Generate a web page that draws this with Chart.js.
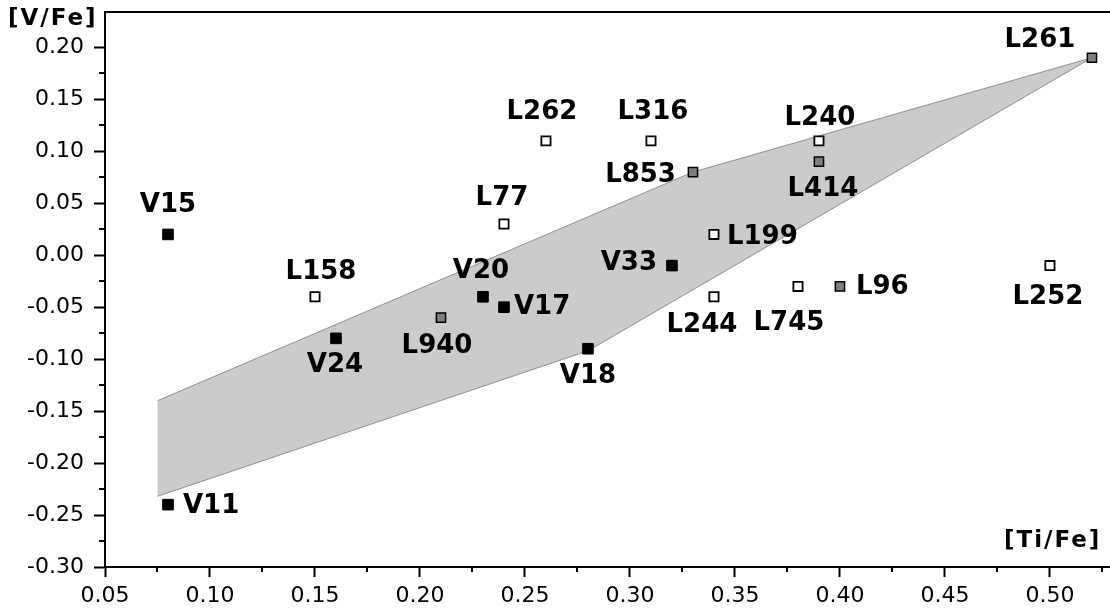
<!DOCTYPE html>
<html>
<head>
<meta charset="utf-8">
<script src="https://cdn.jsdelivr.net/npm/chart.js@4.4.1/dist/chart.umd.min.js"></script>
<style>
html,body{margin:0;padding:0;background:#fff;overflow:hidden;}
#chart{display:block;}
</style>
</head>
<body>
<canvas id="chart" width="1110" height="613"></canvas>
<script>
// V stars - filled black squares
var vNames=['V15','V11','V24','V20','V17','V33','V18'];
var vTi=[0.08,0.08,0.16,0.23,0.24,0.32,0.28];
var vV=[0.02,-0.24,-0.08,-0.04,-0.05,-0.01,-0.09];

// L stars - open squares
var lOpenNames=['L158','L77','L262','L316','L240','L199','L244','L745','L252'];
var lOpenTi=[0.15,0.24,0.26,0.31,0.39,0.34,0.34,0.38,0.50];
var lOpenV=[-0.04,0.03,0.11,0.11,0.11,0.02,-0.04,-0.03,-0.01];

// L stars - grey squares
var lGreyNames=['L940','L853','L414','L96','L261'];
var lGreyTi=[0.21,0.33,0.39,0.40,0.52];
var lGreyV=[-0.06,0.08,0.09,-0.03,0.19];

// shaded band (upper edge left->right, then lower edge back)
var bandTi=[0.075,0.33,0.52,0.28,0.075];
var bandV=[-0.14,0.08,0.19,-0.092,-0.232];

// axis ranges and tick marks
var xMin=0.05, xMax=0.5286, yMin=-0.30, yMax=0.234;
var xTicks=[0.05,0.075,0.10,0.125,0.15,0.175,0.20,0.225,0.25,0.275,0.30,0.325,0.35,0.375,0.40,0.425,0.45,0.475,0.50,0.525];
var yTicks=[-0.30,-0.275,-0.25,-0.225,-0.20,-0.175,-0.15,-0.125,-0.10,-0.075,-0.05,-0.025,0.00,0.025,0.05,0.075,0.10,0.125,0.15,0.175,0.20];

// where each name goes relative to its square: dx, dy, align
var labelSpot={
  V15:[0,-29,'center'], V11:[15,2,'left'], V24:[-1,27,'center'], V20:[-2,-26,'center'],
  V17:[10,0,'left'], V33:[-15,-2,'right'], V18:[0,28,'center'],
  L158:[6,-25,'center'], L77:[-2,-26,'center'], L262:[-4,-29,'center'], L316:[2,-29,'center'],
  L240:[1,-23,'center'], L199:[13,3,'left'], L244:[-12,28,'center'], L745:[-9,37,'center'],
  L252:[-2,32,'center'], L940:[-4,29,'center'], L853:[-17,3,'right'], L414:[4,28,'center'],
  L96:[16,1,'left'], L261:[-52,-17,'center']
};

function pts(xs,ys){
  var out=[];
  for(var i=0;i<xs.length;i++) out.push({x:xs[i],y:ys[i]});
  return out;
}
function isBig(v){ return Math.abs(Math.round(v*1000))%50===0; }
function fmt(v){ return isBig(v) ? v.toFixed(2) : ''; }

var tickFont={family:'DejaVu Sans',size:22};

// names next to the squares, plus the axis captions and the short minor ticks
var decorPlugin={
  id:'decor',
  afterDatasetsDraw:function(chart){
    var ctx=chart.ctx;
    ctx.save();
    ctx.fillStyle='#000';
    ctx.font='bold 26px "DejaVu Sans"';
    ctx.textBaseline='middle';
    chart.data.datasets.forEach(function(ds,i){
      if(!ds.names) return;
      var meta=chart.getDatasetMeta(i);
      meta.data.forEach(function(el,j){
        var s=labelSpot[ds.names[j]];
        ctx.textAlign=s[2];
        ctx.fillText(ds.names[j],el.x+s[0],el.y+s[1]);
      });
    });
    ctx.restore();
  },
  afterDraw:function(chart){
    var ctx=chart.ctx, a=chart.chartArea;
    var xs=chart.scales.x, ys=chart.scales.y;
    ctx.save();
    ctx.strokeStyle='#000';
    ctx.lineWidth=2;
    // frame line on top
    ctx.beginPath();
    ctx.moveTo(a.left-1,a.top);
    ctx.lineTo(chart.width,a.top);
    ctx.stroke();
    // minor ticks
    ctx.beginPath();
    xs.ticks.forEach(function(t){
      if(isBig(t.value)) return;
      var p=Math.round(xs.getPixelForValue(t.value));
      ctx.moveTo(p,a.bottom);
      ctx.lineTo(p,a.bottom+5);
    });
    ys.ticks.forEach(function(t){
      if(isBig(t.value)) return;
      var p=Math.round(ys.getPixelForValue(t.value));
      ctx.moveTo(a.left,p);
      ctx.lineTo(a.left-6,p);
    });
    ctx.stroke();
    // axis captions
    ctx.fillStyle='#000';
    ctx.font='bold 23px "DejaVu Sans"';
    ctx.letterSpacing='2px';
    ctx.textBaseline='middle';
    ctx.textAlign='left';
    ctx.fillText('[V/Fe]',8,19);
    ctx.fillText('[Ti/Fe]',1004,a.bottom-26);
    ctx.restore();
  }
};

var ctx=document.getElementById('chart').getContext('2d');
new Chart(ctx,{
  type:'scatter',
  data:{
    datasets:[
      {
        data:pts(bandTi,bandV),
        showLine:true,
        fill:'shape',
        tension:0,
        backgroundColor:'#cbcbcb',
        borderColor:'#8e8e8e',
        borderWidth:1,
        pointRadius:0,
        order:3
      },
      {
        names:lOpenNames,
        data:pts(lOpenTi,lOpenV),
        pointStyle:'rect',
        pointRadius:6.5,
        backgroundColor:'#fff',
        borderColor:'#000',
        borderWidth:1.8,
        order:2
      },
      {
        names:lGreyNames,
        data:pts(lGreyTi,lGreyV),
        pointStyle:'rect',
        pointRadius:6.5,
        backgroundColor:'#7f7f7f',
        borderColor:'#000',
        borderWidth:1.5,
        order:1
      },
      {
        names:vNames,
        data:pts(vTi,vV),
        pointStyle:'rect',
        pointRadius:7.5,
        backgroundColor:'#000',
        borderColor:'#000',
        borderWidth:1,
        order:0
      }
    ]
  },
  options:{
    responsive:false,
    animation:false,
    events:[],
    clip:false,
    layout:{autoPadding:false,padding:{top:12,right:0,bottom:0,left:0}},
    plugins:{legend:{display:false},tooltip:{enabled:false},title:{display:false}},
    scales:{
      x:{
        type:'linear',
        min:xMin,max:xMax,
        afterBuildTicks:function(s){ s.ticks=xTicks.map(function(v){return {value:v};}); },
        afterFit:function(s){ s.height=46; s.paddingLeft=0; s.paddingRight=0; },
        ticks:{font:tickFont,color:'#000',padding:6,maxRotation:0,autoSkip:false,callback:function(v){return fmt(v);}},
        grid:{drawOnChartArea:false,drawTicks:true,tickLength:10,tickWidth:2,
          tickColor:function(c){ return c.tick && isBig(c.tick.value) ? '#000' : 'rgba(0,0,0,0)'; }},
        border:{display:true,color:'#000',width:2}
      },
      y:{
        type:'linear',
        min:yMin,max:yMax,
        afterBuildTicks:function(s){ s.ticks=yTicks.map(function(v){return {value:v};}); },
        afterFit:function(s){ s.width=105; s.paddingTop=0; s.paddingBottom=0; },
        ticks:{font:tickFont,color:'#000',padding:10,autoSkip:false,callback:function(v){return fmt(v);}},
        grid:{drawOnChartArea:false,drawTicks:true,tickLength:11,tickWidth:2,
          tickColor:function(c){ return c.tick && isBig(c.tick.value) ? '#000' : 'rgba(0,0,0,0)'; }},
        border:{display:true,color:'#000',width:2}
      }
    }
  },
  plugins:[decorPlugin]
});
</script>
</body>
</html>
